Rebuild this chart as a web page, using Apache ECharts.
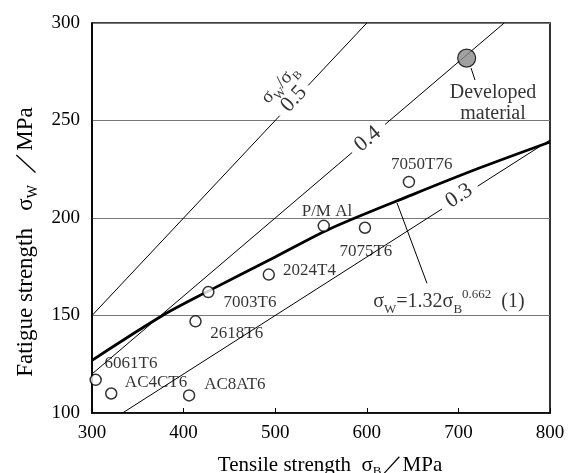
<!DOCTYPE html>
<html><head><meta charset="utf-8">
<script src="https://cdn.jsdelivr.net/npm/echarts@6/dist/echarts.min.js"></script>
<style>html,body{margin:0;padding:0;background:#fff}#c{width:575px;height:473px}</style>
</head><body><div id="c"></div>
<script>
// ---- data ----
const xTicks = [300, 400, 500, 600, 700, 800];
const yTicks = [100, 150, 200, 250, 300];
const alloyNames   = ['6061T6','AC4CT6','AC8AT6','2618T6','7003T6','2024T4','P/M Al','7075T6','7050T76'];
const alloyTensile = [304, 321, 406, 413, 427, 493, 553, 598, 646];
const alloyFatigue = [117, 110, 109, 147, 162, 171, 196, 195, 218.5];
const alloyLabelTensile = [342.6, 369.9, 456, 458, 472.5, 537.4, 556.5, 599, 660];
const alloyLabelFatigue = [125.6, 115.5, 114.4, 141, 156.6, 173.3, 203.2, 182.7, 227.2];
const developedTensile = [709];
const developedFatigue = [282];
const curveTensile = [300, 377, 427, 500, 560, 650, 725, 800];
const curveFatigue = [127, 150, 162.5, 180, 194.5, 212, 226, 239];
// ratio lines sigmaW/sigmaB (segments; gaps leave room for the labels)
const ratio05Segments = [[[300,150],[505,252.5]], [[536,268],[600,300]]];
const ratio04Segments = [[[300,120],[584,233.6]], [[620,248],[750,300]]];
const ratio03Segments = [[[333.3,100],[682,204.6]], [[721,216.3],[800,240]]];
const ratioLabels = [
  {pos:[520.5,261], text:'{n|0.5}', rot:47},
  {pos:[505,268.5], text:'{base|σ}{sub|W}{base|/σ}{sub|B}', rot:47},
  {pos:[601,240.5], text:'{n|0.4}', rot:40},
  {pos:[700.7,211.3], text:'{n|0.3}', rot:33}
];
const formulaLeader = [[633,207.7],[665.7,166.5]];
const developedLeader = [[713.8,276.9],[718.1,270.8]];
const formulaPos = [689.7, 156.9];
const developedLabelPos = [[737.8, 264, 'Developed'], [737.8, 253.6, 'material']];

// ---- chart ----
const FONT = '"Liberation Serif","DejaVu Serif",serif';
const C = '#000';
const ratioRich = {
  n: {fontFamily: FONT, fontSize: 22, color: C},
  base: {fontFamily: FONT, fontSize: 19, color: C, lineHeight: 26, verticalAlign: 'middle'},
  sub: {fontFamily: FONT, fontSize: 12, color: C, lineHeight: 11, verticalAlign: 'bottom'}
};
const lineSeries = (data, w) => ({
  type: 'line', data: data, showSymbol: false, symbol: 'none', silent: true, animation: false,
  lineStyle: {color: '#000', width: w}, z: 2
});
const series = [];
[ratio05Segments, ratio04Segments, ratio03Segments].forEach(segs => segs.forEach(s => series.push(lineSeries(s, 1))));
series.push(Object.assign(lineSeries(curveTensile.map((x,i)=>[x, curveFatigue[i]]), 2.8), {smooth: 0.3}));
series.push(lineSeries(formulaLeader, 1));
series.push(lineSeries(developedLeader, 1));
series.push({
  type: 'scatter', symbol: 'circle', symbolSize: 11, animation: false, z: 5,
  itemStyle: {color: '#fff', borderColor: '#000', borderWidth: 1.5},
  data: alloyTensile.map((x,i)=>[x, alloyFatigue[i]])
});
series.push({
  type: 'scatter', symbol: 'circle', symbolSize: 18, animation: false, z: 5,
  itemStyle: {color: '#8a8a8a', borderColor: '#000', borderWidth: 1.2},
  data: developedTensile.map((x,i)=>[x, developedFatigue[i]])
});
const textData = [];
alloyNames.forEach((n,i)=>textData.push({value:[alloyLabelTensile[i], alloyLabelFatigue[i]], label:{formatter:n, fontSize:17}}));
ratioLabels.forEach(r=>textData.push({value:r.pos, label:{formatter:r.text, rotate:r.rot, rich: ratioRich}}));
developedLabelPos.forEach(d=>textData.push({value:[d[0], d[1]], label:{formatter:d[2], fontSize:20}}));
textData.push({value: formulaPos, label:{formatter:'{base|σ}{sub|W}{base|=1.32σ}{sub|B}{sup|0.662}{base|  (1)}', rich: {
  base: {fontFamily: FONT, fontSize: 20, color: C, lineHeight: 28, verticalAlign: 'middle'},
  sub: {fontFamily: FONT, fontSize: 13, color: C, lineHeight: 12, verticalAlign: 'bottom'},
  sup: {fontFamily: FONT, fontSize: 13, color: C, lineHeight: 12, verticalAlign: 'top'}
}}});
series.push({
  type: 'scatter', symbolSize: 0, silent: true, animation: false, z: 6,
  label: {show: true, position: 'inside', fontFamily: FONT, color: C, fontSize: 17},
  data: textData
});

const chart = echarts.init(document.getElementById('c'));
chart.setOption({
  animation: false,
  backgroundColor: '#fff',
  grid: {left: 92, right: 25, top: 23, bottom: 60, show: true, borderColor: '#000', borderWidth: 1.6,
         containLabel: false, outerBoundsMode: 'none'},
  xAxis: {
    type: 'value', min: xTicks[0], max: xTicks[xTicks.length-1], interval: 100,
    name: '{t|Tensile strength  σ}{s|B}{t|／MPa}', nameLocation: 'middle', nameGap: 39,
    nameTextStyle: {padding: [0,0,0,18], rich: {
      t: {fontFamily: FONT, fontSize: 21, color: C, lineHeight: 26, verticalAlign: 'middle'},
      s: {fontFamily: FONT, fontSize: 13, color: C, lineHeight: 11, verticalAlign: 'bottom'}
    }},
    axisLine: {lineStyle: {color: '#000', width: 1.6}},
    axisTick: {inside: true, length: 5, lineStyle: {color: '#000'}},
    axisLabel: {fontFamily: FONT, fontSize: 19, color: C, margin: 11},
    splitLine: {show: false}
  },
  yAxis: {
    type: 'value', min: yTicks[0], max: yTicks[yTicks.length-1], interval: 50,
    name: '{t|Fatigue strength   σ}{s|W}{t|  ／MPa}', nameLocation: 'middle', nameGap: 52, nameRotate: 90,
    nameTextStyle: {padding: [0,48,0,0], rich: {
      t: {fontFamily: FONT, fontSize: 23, color: C, lineHeight: 28, verticalAlign: 'middle'},
      s: {fontFamily: FONT, fontSize: 14, color: C, lineHeight: 12, verticalAlign: 'bottom'}
    }},
    axisLine: {lineStyle: {color: '#000', width: 1.6}},
    axisTick: {show: false},
    axisLabel: {fontFamily: FONT, fontSize: 19, color: C, margin: 12},
    splitLine: {lineStyle: {color: '#777', width: 1}}
  },
  series: series
});
</script></body></html>
